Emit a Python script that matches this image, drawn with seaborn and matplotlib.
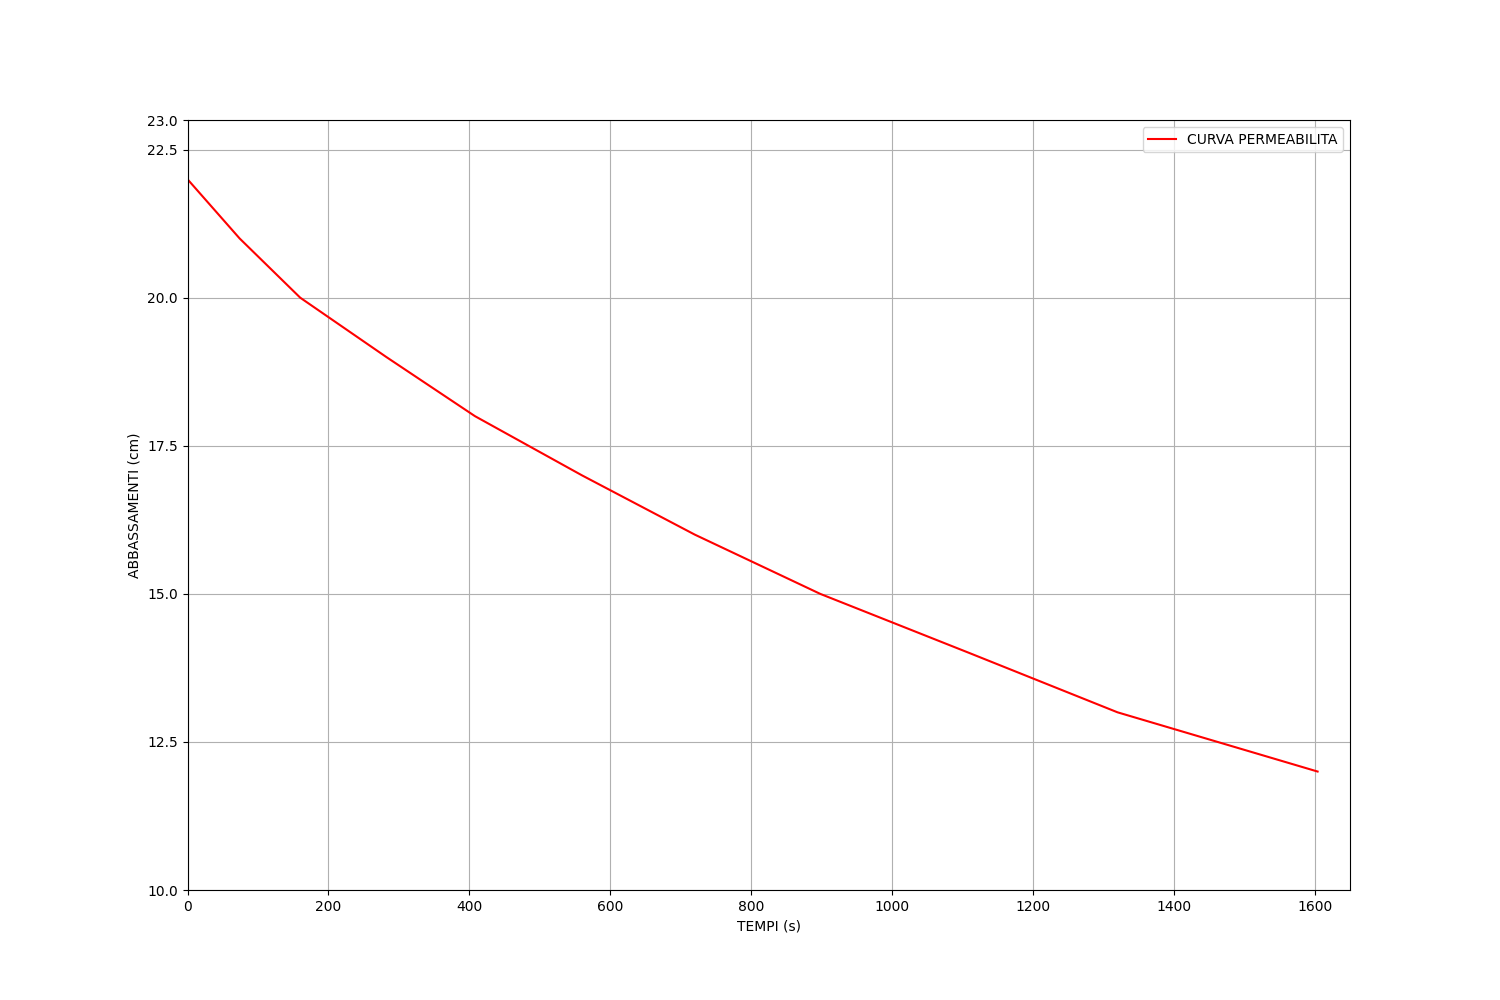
import matplotlib
matplotlib.use("Agg")
import matplotlib.pyplot as plt
import seaborn as sns
import pandas as pd

tempi = [0, 74, 160, 282, 408, 560, 720, 898, 1110, 1320, 1604]
abbassamenti = [22, 21, 20, 19, 18, 17, 16, 15, 14, 13, 12]
yticks = [10, 12.5, 15, 17.5, 20, 22.5, 23]

df = pd.DataFrame({"TEMPI (s)": tempi, "ABBASSAMENTI (cm)": abbassamenti})

fig, ax = plt.subplots(figsize=(15, 10), dpi=100)
sns.lineplot(data=df, x="TEMPI (s)", y="ABBASSAMENTI (cm)", color="red",
             label="CURVA PERMEABILITA", ax=ax, sort=False)
ax.set_xlim(0, 1650)
ax.set_ylim(10, 23)
ax.set_yticks(yticks)
ax.grid(True)
ax.legend(loc="upper right")
fig.savefig("out.png", dpi=100)
